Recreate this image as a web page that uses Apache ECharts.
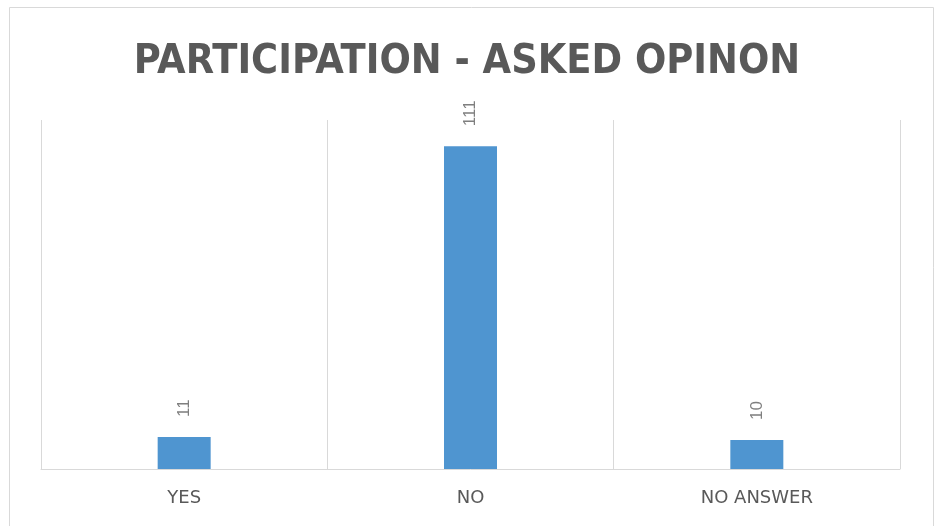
<!DOCTYPE html>
<html><head><meta charset="utf-8">
<script src="https://cdn.jsdelivr.net/npm/echarts@6/dist/echarts.min.js"></script>
<style>html,body{margin:0;padding:0;background:#fff}#c{width:934px;height:526px}</style>
</head><body><div id="c"></div>
<script>
const categories = ['YES', 'NO', 'NO ANSWER'];
const values = [11, 111, 10];
const titleText = 'PARTICIPATION - ASKED OPINON';

const chart = echarts.init(document.getElementById('c'), null, {renderer: 'canvas'});
chart.setOption({
  animation: false,
  backgroundColor: '#fff',
  graphic: [{
    type: 'rect', left: 7, top: 5,
    shape: {width: 924, height: 530},
    style: {fill: 'none', stroke: '#d9d9d9', lineWidth: 1}, silent: true
  }],
  title: {
    text: titleText, left: 'center', top: 37,
    textStyle: {fontFamily: '"Liberation Sans Narrow", "DejaVu Sans Condensed", sans-serif', fontWeight: 'bold', fontSize: 41, color: '#595959'}
  },
  grid: {left: 41, right: 34, top: 120, bottom: 57},
  xAxis: {
    type: 'category', data: categories,
    axisLine: {lineStyle: {color: '#d9d9d9', width: 1}},
    axisTick: {show: false},
    splitLine: {show: true, lineStyle: {color: '#d9d9d9', width: 1}},
    axisLabel: {color: '#595959', fontSize: 18, fontFamily: '"DejaVu Sans", sans-serif', margin: 20}
  },
  yAxis: {type: 'value', min: 0, max: 120, show: false, splitLine: {show: false}},
  series: [{
    type: 'bar', data: values, barWidth: 53,
    itemStyle: {color: '#4f95d0'},
    label: {show: true, position: 'top', rotate: 90, align: 'left', verticalAlign: 'middle', distance: 20,
      color: '#7f7f7f', fontSize: 17, fontFamily: '"Liberation Sans", sans-serif'}
  }]
});
</script></body></html>
